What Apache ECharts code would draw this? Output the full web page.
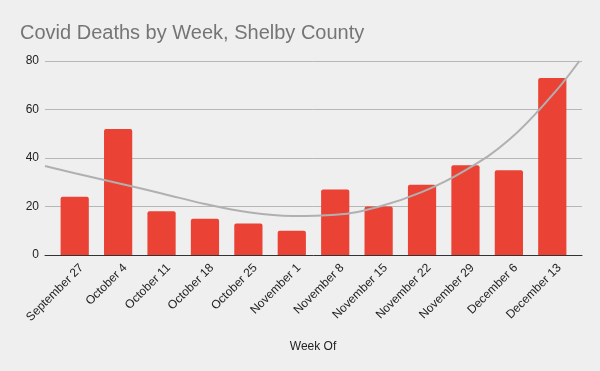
<!DOCTYPE html>
<html>
<head>
<meta charset="utf-8">
<script src="https://cdn.jsdelivr.net/npm/echarts@6/dist/echarts.min.js"></script>
<style>
  html, body { margin: 0; padding: 0; background: #efefef; }
  #chart { width: 600px; height: 371px; }
</style>
</head>
<body>
<div id="chart"></div>
<script>
// weeks and deaths
const weeks = ['September 27', 'October 4', 'October 11', 'October 18', 'October 25', 'November 1',
  'November 8', 'November 15', 'November 22', 'November 29', 'December 6', 'December 13']
const deaths = [24, 52, 18, 15, 13, 10, 27, 20, 29, 37, 35, 73]
// trendline (x = week index)
const trendX = [-0.69, 0, 1, 2, 3, 4, 5, 6, 7, 8, 9, 10, 11, 11.62]
const trendY = [36.7, 33.7, 29.6, 25.4, 21, 17.6, 16.1, 16.6, 19.9, 26, 35, 47.5, 66, 80]
const yTicks = [0, 20, 40, 60, 80]

const chart = echarts.init(document.getElementById('chart'))
const font = 'Liberation Sans, Arial, sans-serif'

const option = {
  backgroundColor: '#efefef',
  animation: false,
  title: {
    text: 'Covid Deaths by Week, Shelby County',
    left: 15,
    top: 18,
    textStyle: { color: '#757575', fontSize: 20, fontWeight: 'normal', fontFamily: font }
  },
  grid: [
    { left: 45, right: 18, top: 61, bottom: 116 },
    { left: 53, right: 26, top: 61, bottom: 116 },
    // labels sit a little right of the bars, like the sheet does
    { left: 60, right: 19, top: 61, bottom: 116 }
  ],
  xAxis: [
    {
      type: 'category',
      gridIndex: 1,
      data: weeks,
      axisLine: { show: false },
      axisTick: { show: false },
      axisLabel: { show: false }
    },
    {
      type: 'value',
      gridIndex: 0,
      min: -0.69,
      max: 11.68,
      axisLine: { show: true, lineStyle: { color: '#333', width: 1 } },
      axisTick: { show: false },
      axisLabel: { show: false },
      splitLine: { show: false }
    },
    {
      type: 'category',
      gridIndex: 2,
      data: weeks,
      axisLine: { show: false },
      axisTick: { show: false },
      axisLabel: { rotate: 45, interval: 0, color: '#222', fontSize: 12, fontFamily: font, margin: 11 },
      name: 'Week Of',
      nameLocation: 'middle',
      nameGap: 86,
      nameTextStyle: { color: '#222', fontSize: 12, fontFamily: font, padding: [0, 15, 0, 0] }
    }
  ],
  yAxis: [
    {
      type: 'value',
      gridIndex: 0,
      min: yTicks[0],
      max: yTicks[yTicks.length - 1],
      interval: 20,
      axisLine: { show: false },
      axisTick: { show: false },
      axisLabel: { color: '#222', fontSize: 12, fontFamily: font, margin: 6 },
      splitLine: { lineStyle: { color: '#b7b7b7', width: 1 } }
    },
    { type: 'value', gridIndex: 1, min: 0, max: 80, show: false },
    { type: 'value', gridIndex: 2, min: 0, max: 80, show: false }
  ],
  series: [
    {
      type: 'bar',
      xAxisIndex: 0,
      yAxisIndex: 1,
      data: deaths,
      barCategoryGap: '35%',
      itemStyle: { color: '#ea4335', borderRadius: [2, 2, 0, 0] }
    },
    {
      type: 'line',
      xAxisIndex: 1,
      yAxisIndex: 0,
      data: trendX.map((x, i) => [x, trendY[i]]),
      smooth: 0.4,
      symbol: 'none',
      lineStyle: { color: '#b0b0b0', width: 2 },
      z: 5
    }
  ]
}
chart.setOption(option)
</script>
</body>
</html>
